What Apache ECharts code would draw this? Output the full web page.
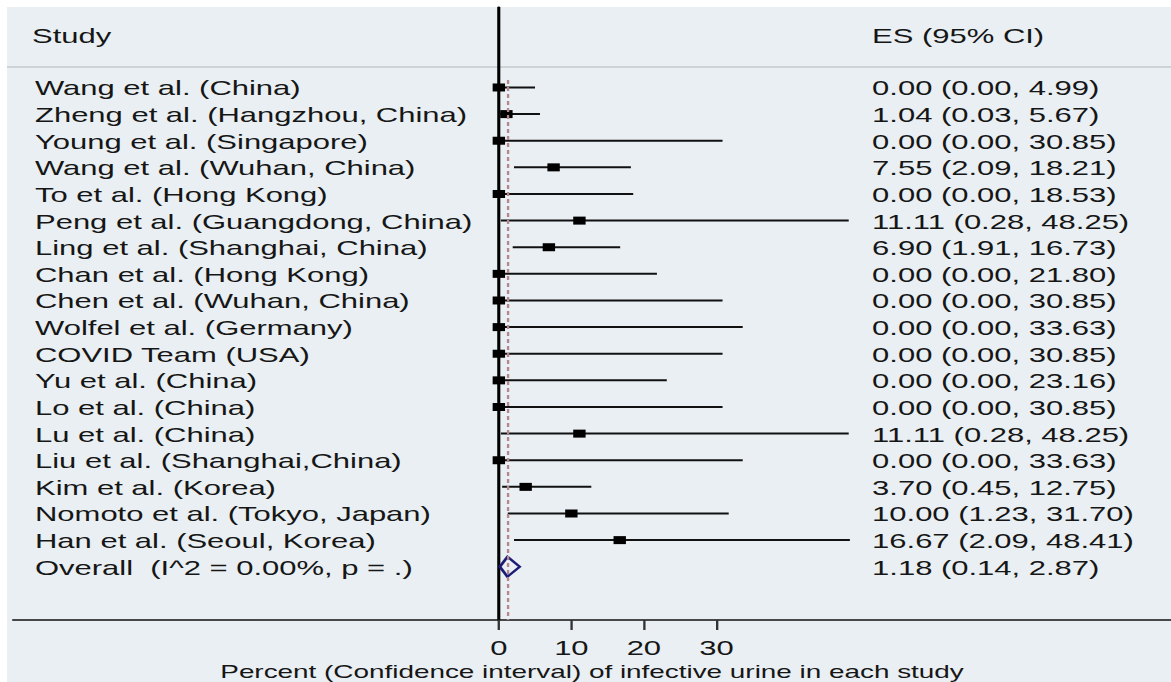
<!DOCTYPE html>
<html>
<head>
<meta charset="utf-8">
<script src="https://cdn.jsdelivr.net/npm/echarts@6/dist/echarts.min.js"></script>
<style>
html, body { margin: 0; padding: 0; background: #ffffff; overflow: hidden; }
/* the reference is stretched sideways, so the chart is drawn narrow and widened */
#main { width: 756px; height: 682px; transform: scaleX(1.549); transform-origin: 0 0; }
</style>
</head>
<body>
<div id="main"></div>
<script>
var studies = [
    'Wang et al. (China)',
    'Zheng et al. (Hangzhou, China)',
    'Young et al. (Singapore)',
    'Wang et al. (Wuhan, China)',
    'To et al. (Hong Kong)',
    'Peng et al. (Guangdong, China)',
    'Ling et al. (Shanghai, China)',
    'Chan et al. (Hong Kong)',
    'Chen et al. (Wuhan, China)',
    'Wolfel et al. (Germany)',
    'COVID Team (USA)',
    'Yu et al. (China)',
    'Lo et al. (China)',
    'Lu et al. (China)',
    'Liu et al. (Shanghai,China)',
    'Kim et al. (Korea)',
    'Nomoto et al. (Tokyo, Japan)',
    'Han et al. (Seoul, Korea)'
];
var es = [0.00, 1.04, 0.00, 7.55, 0.00, 11.11, 6.90, 0.00, 0.00, 0.00, 0.00, 0.00, 0.00, 11.11, 0.00, 3.70, 10.00, 16.67];
var ciLow = [0.00, 0.03, 0.00, 2.09, 0.00, 0.28, 1.91, 0.00, 0.00, 0.00, 0.00, 0.00, 0.00, 0.28, 0.00, 0.45, 1.23, 2.09];
var ciHigh = [4.99, 5.67, 30.85, 18.21, 18.53, 48.25, 16.73, 21.80, 30.85, 33.63, 30.85, 23.16, 30.85, 48.25, 33.63, 12.75, 31.70, 48.41];

var overallLabel = 'Overall  (I^2 = 0.00%, p = .)';
var overallEs = 1.18;
var overallLow = 0.14;
var overallHigh = 2.87;

var tickValues = [0, 10, 20, 30];
var axisTitle = 'Percent (Confidence interval) of infective urine in each study';

var FONT = '"Liberation Sans", Arial, sans-serif';
var TXT = '#161616';
var LEFT_X = 22.6;
var RIGHT_X = 563;

function esText(e, l, h) {
    return e.toFixed(2) + ' (' + l.toFixed(2) + ', ' + h.toFixed(2) + ')';
}

var rows = [];
for (var i = 0; i < studies.length; i++) {
    rows.push([es[i], i, ciLow[i], ciHigh[i]]);
}
var overallRow = [[overallEs, studies.length, overallLow, overallHigh]];

var myChart = echarts.init(document.getElementById('main'), null, {renderer: 'svg'});

var option = {
    animation: false,
    graphic: [
        {
            type: 'rect', z: -10, silent: true,
            shape: {x: 4.5, y: 7, width: 760, height: 680},
            style: {fill: '#e9eff2'}
        },
        {
            type: 'line', z: -5, silent: true,
            shape: {x1: 4.5, y1: 67, x2: 756, y2: 67},
            style: {stroke: '#c3cbcf', lineWidth: 1.5}
        },
        {
            type: 'text', left: 20.7, top: 26,
            style: {text: 'Study', font: '20px ' + FONT, fill: TXT}
        },
        {
            type: 'text', left: RIGHT_X, top: 26,
            style: {text: 'ES (95% CI)', font: '20px ' + FONT, fill: TXT}
        }
    ],
    grid: {
        left: 8.4,
        right: 0,
        top: 7.6,
        bottom: 62,
        outerBoundsMode: 'none'
    },
    xAxis: {
        type: 'value',
        min: -67,
        max: 92.7,
        position: 'bottom',
        axisLine: {onZero: false, lineStyle: {color: '#111', width: 1.5}},
        axisTick: {show: true, customValues: tickValues, length: 10, lineStyle: {color: '#333', width: 1.5}},
        axisLabel: {customValues: tickValues, fontSize: 20, fontFamily: FONT, color: TXT, margin: 18},
        splitLine: {show: false},
        name: axisTitle,
        nameLocation: 'middle',
        nameGap: 31,
        nameTextStyle: {fontSize: 18, fontFamily: FONT, color: TXT}
    },
    yAxis: {
        type: 'value',
        min: -3,
        max: 20,
        inverse: true,
        axisLine: {show: true, onZero: true, lineStyle: {color: '#000', width: 2}},
        axisTick: {show: false},
        axisLabel: {show: false},
        splitLine: {show: false}
    },
    series: [
        {
            type: 'custom',
            name: 'studies',
            data: rows,
            encode: {x: [0, 2, 3], y: 1},
            clip: false,
            renderItem: function (params, api) {
                var idx = api.value(1);
                var pE = api.coord([api.value(0), idx]);
                var pL = api.coord([api.value(2), idx]);
                var pH = api.coord([api.value(3), idx]);
                return {
                    type: 'group',
                    children: [
                        {
                            type: 'line',
                            shape: {x1: pL[0], y1: pL[1], x2: pH[0], y2: pH[1]},
                            style: {stroke: '#111', lineWidth: 2}
                        },
                        {
                            type: 'rect',
                            shape: {x: pE[0] - 4, y: pE[1] - 4, width: 8, height: 8},
                            style: {fill: '#000'}
                        },
                        {
                            type: 'text',
                            x: LEFT_X, y: pE[1] + 1,
                            style: {text: studies[idx], font: '20px ' + FONT, fill: TXT, verticalAlign: 'middle'}
                        },
                        {
                            type: 'text',
                            x: RIGHT_X, y: pE[1] + 1,
                            style: {text: esText(api.value(0), api.value(2), api.value(3)), font: '20px ' + FONT, fill: TXT, verticalAlign: 'middle'}
                        }
                    ]
                };
            }
        },
        {
            type: 'custom',
            name: 'overall',
            data: overallRow,
            encode: {x: [0, 2, 3], y: 1},
            clip: false,
            renderItem: function (params, api) {
                var idx = api.value(1);
                var pE = api.coord([api.value(0), idx]);
                var pL = api.coord([api.value(2), idx]);
                var pH = api.coord([api.value(3), idx]);
                return {
                    type: 'group',
                    children: [
                        {
                            type: 'polygon',
                            shape: {points: [[pL[0], pL[1]], [pE[0], pE[1] - 10], [pH[0], pH[1]], [pE[0], pE[1] + 10]]},
                            style: {fill: 'none', stroke: '#1c1c78', lineWidth: 2}
                        },
                        {
                            type: 'text',
                            x: LEFT_X, y: pE[1] + 1,
                            style: {text: overallLabel, font: '20px ' + FONT, fill: TXT, verticalAlign: 'middle'}
                        },
                        {
                            type: 'text',
                            x: RIGHT_X, y: pE[1] + 1,
                            style: {text: esText(api.value(0), api.value(2), api.value(3)), font: '20px ' + FONT, fill: TXT, verticalAlign: 'middle'}
                        }
                    ]
                };
            },
            markLine: {
                silent: true,
                symbol: 'none',
                label: {show: false},
                lineStyle: {color: '#b5868c', type: [4, 3], width: 1.5},
                data: [
                    [{coord: [overallEs, -0.28]}, {coord: [overallEs, 20]}]
                ]
            }
        }
    ]
};

if (option && typeof option === 'object') {
    myChart.setOption(option);
}
</script>
</body>
</html>
